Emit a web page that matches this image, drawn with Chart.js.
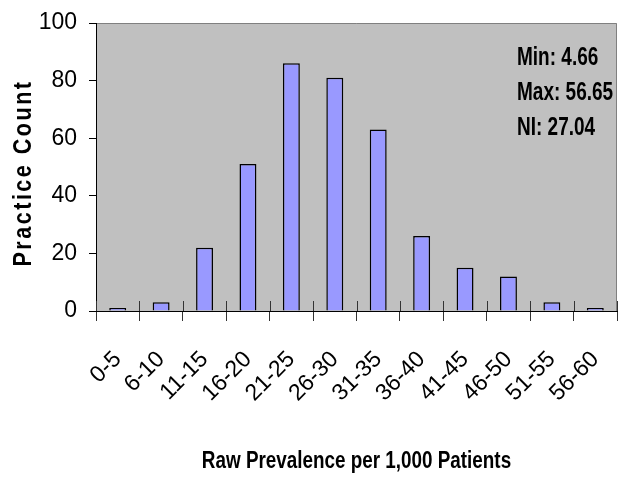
<!DOCTYPE html>
<html>
<head>
<meta charset="utf-8">
<title>Practice Count</title>
<script src="https://cdn.jsdelivr.net/npm/chart.js@4/dist/chart.umd.min.js"></script>
<style>
  body { margin: 0; background: #fff; }
  canvas { display: block; }
</style>
</head>
<body>
<canvas id="histChart" width="621" height="477"></canvas>
<script>
var categories = ['0-5', '6-10', '11-15', '16-20', '21-25', '26-30', '31-35', '36-40', '41-45', '46-50', '51-55', '56-60'];
var counts = [1, 3, 22, 51, 86, 81, 63, 26, 15, 12, 3, 1];
var yTicks = [0, 20, 40, 60, 80, 100];
var statLines = ['Min: 4.66', 'Max: 56.65', 'NI: 27.04'];
var xTitle = 'Raw Prevalence per 1,000 Patients';
var yTitle = 'Practice Count';

(function(){
  var sans = "'Liberation Sans', Arial, sans-serif";

  Chart.defaults.color = '#000';
  Chart.defaults.font.family = sans;

  // squeeze text sideways, the original used Arial Narrow
  function narrowText (ctx, text, x, y, squeeze){
    var w = ctx.measureText(text).width;
    ctx.fillText(text, x, y, w * squeeze);
  }

  var plotBox = {
    id: 'plotBox',
    beforeDraw: function(chart){
      var ctx = chart.ctx, a = chart.chartArea;
      ctx.save();
      ctx.fillStyle = '#c0c0c0';
      ctx.fillRect(a.left, a.top, a.right - a.left, a.bottom - a.top);
      ctx.strokeStyle = '#808080';
      ctx.lineWidth = 1;
      ctx.beginPath();
      ctx.moveTo(a.left, a.top + 0.5);
      ctx.lineTo(a.right - 0.5, a.top + 0.5);
      ctx.lineTo(a.right - 0.5, a.bottom);
      ctx.stroke();
      ctx.restore();
    },
    afterDatasetsDraw: function(chart){
      // tick marks poke up above the x axis as well
      var ctx = chart.ctx, x = chart.scales.x, a = chart.chartArea;
      var half = (x.getPixelForValue(1) - x.getPixelForValue(0)) / 2;
      ctx.save();
      ctx.strokeStyle = '#333';
      ctx.lineWidth = 1;
      ctx.beginPath();
      for (var i = 0; i <= categories.length; i++) {
        var px = Math.round(x.getPixelForValue(i) - half) + 0.5;
        ctx.moveTo(px, a.bottom - 10);
        ctx.lineTo(px, a.bottom);
      }
      ctx.stroke();
      ctx.restore();
    },
    afterDraw: function(chart){
      var ctx = chart.ctx, a = chart.chartArea;

      ctx.save();
      ctx.fillStyle = '#000';
      ctx.font = 'bold 26px ' + sans;
      ctx.letterSpacing = '3px';
      ctx.translate(24, (a.top + a.bottom) / 2 + 6);
      ctx.rotate(-Math.PI / 2);
      ctx.textAlign = 'center';
      ctx.textBaseline = 'middle';
      ctx.fillText(yTitle, 0, 0, 187);
      ctx.restore();

      ctx.save();
      ctx.fillStyle = '#000';
      ctx.font = 'bold 23px ' + sans;
      ctx.textAlign = 'center';
      ctx.textBaseline = 'alphabetic';
      narrowText(ctx, xTitle, (a.left + a.right) / 2, 468, 0.82);
      ctx.restore();

      ctx.save();
      ctx.fillStyle = '#000';
      ctx.font = 'bold 25px ' + sans;
      ctx.textAlign = 'left';
      ctx.textBaseline = 'alphabetic';
      for (var i = 0; i < statLines.length; i++) {
        narrowText(ctx, statLines[i], a.right - 100, a.top + 42 + i * 35, 0.76);
      }
      ctx.restore();
    }
  };

  var ctx = document.getElementById('histChart').getContext('2d');
  new Chart(ctx, {
    type: 'bar',
    data: {
      labels: categories,
      datasets: [{
        data: counts,
        backgroundColor: '#9999ff',
        borderColor: '#000',
        borderWidth: 1.5,
        barPercentage: 0.39,
        categoryPercentage: 1
      }]
    },
    options: {
      responsive: false,
      animation: false,
      devicePixelRatio: 1,
      layout: { padding: { top: 23, right: 4, left: 0, bottom: 0 } },
      plugins: {
        legend: { display: false },
        tooltip: { enabled: false }
      },
      scales: {
        x: {
          grid: { offset: true, drawOnChartArea: false, tickLength: 10, color: '#333' },
          border: { color: '#000', width: 1 },
          ticks: {
            autoSkip: false,
            minRotation: 45,
            maxRotation: 45,
            padding: 25,
            font: { size: 23 }
          },
          afterFit: function(scale){
            scale.height = 166;
            scale.paddingLeft = 0;
            scale.paddingRight = 0;
          }
        },
        y: {
          min: 0,
          max: 100,
          afterBuildTicks: function(scale){
            scale.ticks = yTicks.map(function(v){ return { value: v }; });
          },
          grid: { drawOnChartArea: false, tickLength: 7, color: '#000' },
          border: { color: '#000', width: 1 },
          ticks: { padding: 12, font: { size: 23 } },
          afterFit: function(scale){
            scale.width = 96;
            scale.paddingTop = 0;
            scale.paddingBottom = 0;
          }
        }
      }
    },
    plugins: [plotBox]
  });
})();
</script>
</body>
</html>
